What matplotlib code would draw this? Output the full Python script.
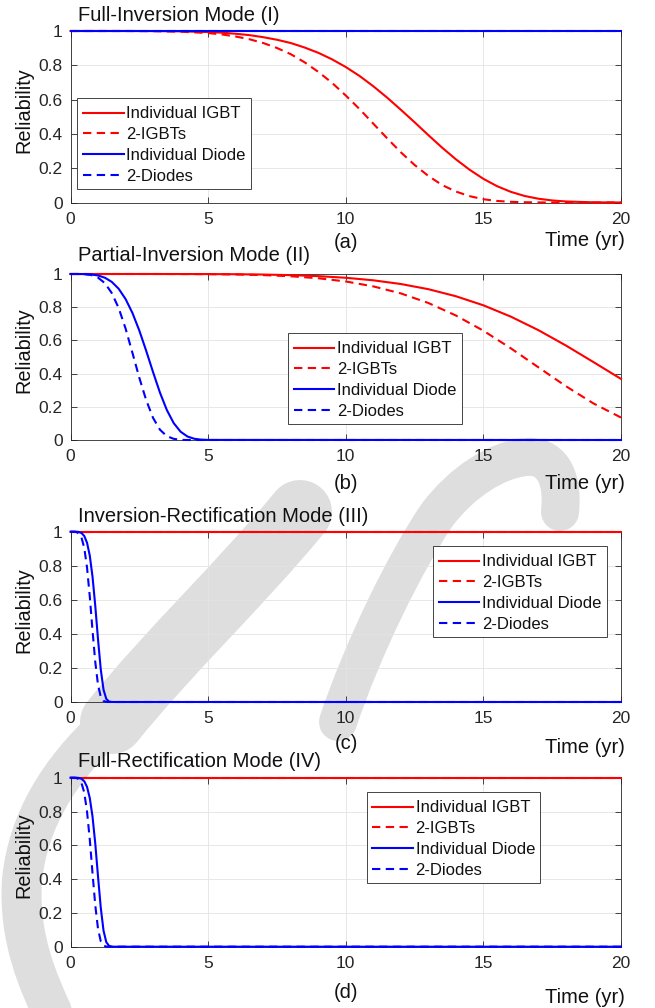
import matplotlib
matplotlib.use("Agg")
import matplotlib.pyplot as plt
from matplotlib.lines import Line2D
from matplotlib.path import Path
from matplotlib.patches import PathPatch, Rectangle

plt.rcParams['font.family'] = ['Liberation Sans', 'DejaVu Sans']

W, H = 655, 1008

# ---------------- data ----------------
series_labels = ["Individual IGBT", "2-IGBTs", "Individual Diode", "2-Diodes"]
x_ticks = [0, 5, 10, 15, 20]
y_ticks = [0, 0.2, 0.4, 0.6, 0.8, 1.0]
y_tick_labels = ["0", "0.2", "0.4", "0.6", "0.8", "1"]

# (a) Full-Inversion Mode (I)
t_a = [0, 1, 2, 3, 4, 5, 5.5, 6, 6.5, 7, 7.5, 8, 8.5, 9, 9.5, 10, 10.5, 11, 11.5,
       12, 12.5, 13, 13.5, 14, 14.5, 15, 15.5, 16, 16.5, 17, 17.5, 18, 19, 20]
igbt_a = [1.0, 1.0, 1.0, 0.9996, 0.998, 0.994, 0.990, 0.984, 0.976, 0.964, 0.949,
          0.930, 0.904, 0.873, 0.835, 0.790, 0.738, 0.678, 0.612, 0.541, 0.468,
          0.393, 0.320, 0.252, 0.191, 0.138, 0.095, 0.062, 0.038, 0.022, 0.012,
          0.006, 0.001, 0.0]
igbt2_a = [1.0, 1.0, 1.0, 0.999, 0.996, 0.988, 0.980, 0.968, 0.952, 0.930, 0.901,
           0.865, 0.818, 0.762, 0.698, 0.624, 0.545, 0.460, 0.375, 0.293, 0.219,
           0.155, 0.102, 0.064, 0.037, 0.019, 0.009, 0.004, 0.0015, 0.0005, 0.0001,
           0.0, 0.0, 0.0]
t_a_diode = [0, 20]
diode_a = [1.0, 1.0]
diode2_a = [1.0, 1.0]

# (b) Partial-Inversion Mode (II)
t_b = [0, 1, 2, 3, 4, 5, 6, 7, 8, 9, 10, 11, 12, 13, 14, 15, 16, 17, 18, 19, 20]
igbt_b = [1.0, 1.0, 1.0, 1.0, 0.9998, 0.9995, 0.9986, 0.9967, 0.9932, 0.9871, 0.9773,
          0.9620, 0.9398, 0.9086, 0.8661, 0.8114, 0.7430, 0.6616, 0.5691, 0.4693, 0.3679]
igbt2_b = [1.0, 1.0, 1.0, 1.0, 0.9996, 0.9990, 0.9972, 0.9934, 0.9864, 0.9744, 0.9551,
           0.9254, 0.8832, 0.8255, 0.7501, 0.6584, 0.5520, 0.4377, 0.3239, 0.2202, 0.1353]
t_b_diode = [0, 0.25, 0.5, 0.75, 1.0, 1.25, 1.5, 1.75, 2.0, 2.25, 2.5, 2.75, 3.0,
             3.25, 3.5, 3.75, 4.0, 4.25, 4.5, 4.75, 5.0, 20]
diode_b = [1.0, 1.0, 0.9995, 0.9974, 0.9912, 0.9776, 0.9524, 0.9111, 0.8495, 0.7653,
           0.6594, 0.5373, 0.4084, 0.2855, 0.1807, 0.1016, 0.0499, 0.0209, 0.0073,
           0.0021, 0.0005, 0.0]
diode2_b = [1.0, 1.0, 0.999, 0.994, 0.978, 0.945, 0.885, 0.795, 0.672, 0.525,
            0.375, 0.240, 0.133, 0.062, 0.023, 0.007, 0.001, 0.0, 0.0,
            0.0, 0.0, 0.0]

# (c) Inversion-Rectification Mode (III)
t_c_igbt = [0, 20]
igbt_c = [1.0, 1.0]
igbt2_c = [1.0, 1.0]
t_c = [0, 0.1, 0.2, 0.3, 0.4, 0.5, 0.6, 0.7, 0.8, 0.9, 1.0, 1.1, 1.2, 1.3, 1.4, 1.5, 1.6, 20]
diode_c = [1.0, 1.0, 0.9998, 0.9983, 0.9923, 0.9749, 0.9355, 0.8598, 0.7360, 0.5644,
           0.3679, 0.1907, 0.0722, 0.0180, 0.0026, 0.0002, 0.0, 0.0]
diode2_c = [1.0, 1.0, 0.999, 0.990, 0.965, 0.905, 0.790, 0.620, 0.420, 0.235,
            0.100, 0.030, 0.006, 0.0005, 0.0, 0.0, 0.0, 0.0]

# (d) Full-Rectification Mode (IV)
t_d_igbt = [0, 20]
igbt_d = [1.0, 1.0]
igbt2_d = [1.0, 1.0]
t_d = [0, 0.1, 0.2, 0.3, 0.4, 0.5, 0.6, 0.7, 0.8, 0.9, 1.0, 1.1, 1.2, 1.3, 1.4, 1.5, 1.6, 20]
diode_d = [1.0, 1.0, 0.9998, 0.9985, 0.9935, 0.979, 0.946, 0.880, 0.770, 0.610,
           0.415, 0.230, 0.095, 0.027, 0.005, 0.0005, 0.0, 0.0]
diode2_d = [1.0, 1.0, 0.999, 0.991, 0.968, 0.912, 0.800, 0.635, 0.435, 0.245,
            0.105, 0.032, 0.007, 0.0006, 0.0, 0.0, 0.0, 0.0]

# ---------------- layout (pixels) ----------------
panels = [
    dict(title="Full-Inversion Mode (I)", tag="(a)",
         rect=(70.5, 31, 621, 202.5), title_base=20.7, tag_base=248, time_base=245.5,
         legend_box=(77.4, 98),
         lines=[(t_a, igbt_a), (t_a, igbt2_a), (t_a_diode, diode_a), (t_a_diode, diode2_a)]),
    dict(title="Partial-Inversion Mode (II)", tag="(b)",
         rect=(70.5, 274, 621, 440), title_base=261, tag_base=489.3, time_base=489.3,
         legend_box=(288, 333),
         lines=[(t_b, igbt_b), (t_b, igbt2_b), (t_b_diode, diode_b), (t_b_diode, diode2_b)]),
    dict(title="Inversion-Rectification Mode (III)", tag="(c)",
         rect=(70.5, 531.7, 621, 702), title_base=521.7, tag_base=749.3, time_base=753.3,
         legend_box=(433, 546),
         lines=[(t_c_igbt, igbt_c), (t_c_igbt, igbt2_c), (t_c, diode_c), (t_c, diode2_c)]),
    dict(title="Full-Rectification Mode (IV)", tag="(d)",
         rect=(70.5, 777.7, 621, 946.7), title_base=766.7, tag_base=998, time_base=1003,
         legend_box=(366.5, 792),
         lines=[(t_d_igbt, igbt_d), (t_d_igbt, igbt2_d), (t_d, diode_d), (t_d, diode2_d)]),
]
LEG_W, LEG_H = 173.6, 91

styles = [dict(color=(1, 0, 0), ls='-'),
          dict(color=(1, 0, 0), ls=(0, (4, 2.6))),
          dict(color=(0, 0, 1), ls='-'),
          dict(color=(0, 0, 1), ls=(0, (4, 2.6)))]

AX_COLOR = '#262626'
TEXT_COLOR = '#111111'
MARK_GRAY = '#dedede'

fig = plt.figure(figsize=(W / 100, H / 100), dpi=100)
fig.patch.set_facecolor('white')


def fx(x):
    return x / W


def fy(y):
    return 1 - y / H


def stroke(points, width_px, codes):
    """Thick gray background stroke given in pixel coordinates."""
    verts = [(fx(x), fy(y)) for x, y in points]
    patch = PathPatch(Path(verts, codes), transform=fig.transFigure, fill=False,
                      edgecolor=MARK_GRAY, lw=width_px * 0.72, capstyle='round',
                      joinstyle='round', zorder=-5)
    fig.add_artist(patch)


M, C3 = Path.MOVETO, Path.CURVE4
# background swoosh mark
stroke([(560, 512), (564, 472), (548, 455), (526, 457),
        (496, 460), (462, 482), (437, 515),
        (405, 562), (362, 650), (338, 722)],
       38, [M, C3, C3, C3, C3, C3, C3, C3, C3, C3])
stroke([(300, 512), (240, 585), (170, 650), (112, 722)], 64, [M, C3, C3, C3])
stroke([(105, 728), (60, 770), (28, 820), (22, 880),
        (18, 940), (40, 985), (52, 1012)],
       40, [M, C3, C3, C3, C3, C3, C3])

for p in panels:
    l, t, r, b = p['rect']
    ax = fig.add_axes([fx(l), fy(b), (r - l) / W, (b - t) / H])
    ax.set_facecolor('none')
    for (xs, ys), st in zip(p['lines'], styles):
        ax.plot(xs, ys, color=st['color'], linestyle=st['ls'], lw=1.5,
                clip_on=False, zorder=3)
    ax.set_xlim(0, 20)
    ax.set_ylim(0, 1)
    ax.set_xticks(x_ticks)
    ax.set_xticklabels([str(v) for v in x_ticks])
    ax.set_yticks(y_ticks)
    ax.set_yticklabels(y_tick_labels)
    ax.tick_params(direction='in', length=4, width=0.6, color=AX_COLOR,
                   top=True, right=True, labelsize=12.5, labelcolor='#262626')
    ax.tick_params(axis='x', pad=6.5)
    ax.tick_params(axis='y', pad=5.5)
    ax.grid(True, color='#e3e3e3', lw=0.6)
    ax.set_axisbelow(True)
    for sp in ax.spines.values():
        sp.set_color(AX_COLOR)
        sp.set_linewidth(0.6)

    # legend frame and entries
    bx, by = p['legend_box']
    frame = Rectangle((fx(bx), fy(by + LEG_H)), LEG_W / W, LEG_H / H,
                      transform=fig.transFigure, facecolor='white',
                      edgecolor=AX_COLOR, lw=0.6, zorder=4.9, clip_on=False)
    ax.add_patch(frame)
    handles = [Line2D([], [], color=st['color'], linestyle=st['ls'], lw=1.5) for st in styles]
    ax_x = (bx + 5.6 - l) / (r - l)
    ax_y = (b - (by + 8.4)) / (b - t)
    leg = ax.legend(handles, series_labels, loc='upper left',
                    bbox_to_anchor=(ax_x, ax_y), frameon=False,
                    borderaxespad=0, borderpad=0, fontsize=12,
                    handlelength=2.45, handletextpad=0.16, labelspacing=0.35)
    leg.set_zorder(5)
    for txt in leg.get_texts():
        txt.set_color(TEXT_COLOR)

    # titles and annotations
    fig.text(fx(77.7), fy(p['title_base']), p['title'], ha='left', va='baseline',
             fontsize=14.5, color=TEXT_COLOR)
    fig.text(fx(346), fy(p['tag_base']), p['tag'], ha='center', va='baseline',
             fontsize=14.5, color=TEXT_COLOR)
    fig.text(fx(625), fy(p['time_base']), 'Time (yr)', ha='right', va='baseline',
             fontsize=14.5, color=TEXT_COLOR)
    fig.text(fx(23.7), fy((t + b) / 2 - 7), 'Reliability', ha='center', va='center',
             rotation=90, fontsize=14.3, color=TEXT_COLOR)

fig.savefig('out.png', dpi=100, facecolor='white')
